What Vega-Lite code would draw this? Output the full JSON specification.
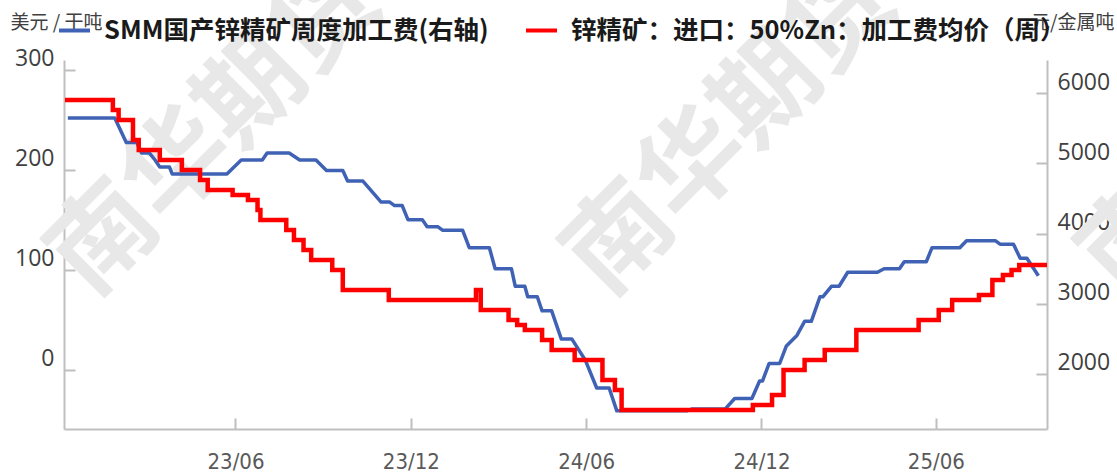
{
  "$schema": "https://vega.github.io/schema/vega-lite/v6.json",
  "width": 983,
  "height": 369,
  "autosize": {"type": "none"},
  "padding": {"left": 64, "top": 60, "right": 70, "bottom": 44},
  "background": "white",
  "config": {
    "view": {"stroke": null},
    "axis": {
      "grid": false,
      "zindex": 1,
      "domainColor": "#BFBFBF",
      "domainWidth": 2,
      "tickColor": "#BFBFBF",
      "tickWidth": 2,
      "tickSize": -11,
      "labelFont": "Open Sans",
      "labelColor": "#404040",
      "labelFontSize": 23
    }
  },
  "datasets": {
    "smm": [
      {"date": "2022-12-08", "value": 5650},
      {"date": "2023-01-26", "value": 5650},
      {"date": "2023-02-07", "value": 5300},
      {"date": "2023-02-18", "value": 5300},
      {"date": "2023-02-23", "value": 5150},
      {"date": "2023-03-03", "value": 5150},
      {"date": "2023-03-09", "value": 5050},
      {"date": "2023-03-14", "value": 4950},
      {"date": "2023-03-24", "value": 4950},
      {"date": "2023-03-27", "value": 4850},
      {"date": "2023-05-23", "value": 4850},
      {"date": "2023-06-07", "value": 5050},
      {"date": "2023-06-29", "value": 5050},
      {"date": "2023-07-04", "value": 5150},
      {"date": "2023-07-27", "value": 5150},
      {"date": "2023-08-07", "value": 5050},
      {"date": "2023-08-24", "value": 5050},
      {"date": "2023-09-04", "value": 4900},
      {"date": "2023-09-21", "value": 4900},
      {"date": "2023-09-26", "value": 4750},
      {"date": "2023-10-12", "value": 4750},
      {"date": "2023-10-31", "value": 4450},
      {"date": "2023-11-09", "value": 4450},
      {"date": "2023-11-14", "value": 4400},
      {"date": "2023-11-22", "value": 4400},
      {"date": "2023-11-28", "value": 4200},
      {"date": "2023-12-13", "value": 4200},
      {"date": "2023-12-18", "value": 4100},
      {"date": "2023-12-29", "value": 4100},
      {"date": "2024-01-03", "value": 4050},
      {"date": "2024-01-24", "value": 4050},
      {"date": "2024-01-31", "value": 3800},
      {"date": "2024-02-21", "value": 3800},
      {"date": "2024-02-27", "value": 3500},
      {"date": "2024-03-15", "value": 3500},
      {"date": "2024-03-19", "value": 3250},
      {"date": "2024-03-29", "value": 3250},
      {"date": "2024-04-01", "value": 3100},
      {"date": "2024-04-11", "value": 3100},
      {"date": "2024-04-16", "value": 2900},
      {"date": "2024-04-26", "value": 2900},
      {"date": "2024-05-06", "value": 2500},
      {"date": "2024-05-17", "value": 2500},
      {"date": "2024-05-31", "value": 2200},
      {"date": "2024-06-12", "value": 1800},
      {"date": "2024-06-25", "value": 1800},
      {"date": "2024-07-03", "value": 1475},
      {"date": "2024-09-14", "value": 1475},
      {"date": "2024-09-19", "value": 1500},
      {"date": "2024-10-24", "value": 1500},
      {"date": "2024-11-03", "value": 1650},
      {"date": "2024-11-21", "value": 1650},
      {"date": "2024-11-29", "value": 1900},
      {"date": "2024-12-02", "value": 1900},
      {"date": "2024-12-09", "value": 2150},
      {"date": "2024-12-20", "value": 2150},
      {"date": "2024-12-27", "value": 2400},
      {"date": "2025-01-07", "value": 2550},
      {"date": "2025-01-15", "value": 2750},
      {"date": "2025-01-22", "value": 2750},
      {"date": "2025-01-31", "value": 3100},
      {"date": "2025-02-03", "value": 3100},
      {"date": "2025-02-12", "value": 3250},
      {"date": "2025-02-20", "value": 3250},
      {"date": "2025-03-01", "value": 3450},
      {"date": "2025-04-01", "value": 3450},
      {"date": "2025-04-08", "value": 3500},
      {"date": "2025-04-24", "value": 3500},
      {"date": "2025-04-29", "value": 3600},
      {"date": "2025-05-22", "value": 3600},
      {"date": "2025-05-28", "value": 3800},
      {"date": "2025-06-26", "value": 3800},
      {"date": "2025-07-03", "value": 3900},
      {"date": "2025-08-02", "value": 3900},
      {"date": "2025-08-07", "value": 3850},
      {"date": "2025-08-21", "value": 3850},
      {"date": "2025-08-28", "value": 3650},
      {"date": "2025-09-04", "value": 3650},
      {"date": "2025-09-16", "value": 3400}
    ],
    "imp": [
      {"date": "2022-12-05", "value": 270},
      {"date": "2023-01-24", "value": 260},
      {"date": "2023-01-30", "value": 250},
      {"date": "2023-02-14", "value": 230},
      {"date": "2023-02-20", "value": 220},
      {"date": "2023-03-14", "value": 210},
      {"date": "2023-04-06", "value": 200},
      {"date": "2023-04-25", "value": 190},
      {"date": "2023-05-03", "value": 180},
      {"date": "2023-05-29", "value": 175},
      {"date": "2023-06-14", "value": 170},
      {"date": "2023-06-24", "value": 160},
      {"date": "2023-06-27", "value": 150},
      {"date": "2023-07-24", "value": 140},
      {"date": "2023-08-01", "value": 130},
      {"date": "2023-08-11", "value": 120},
      {"date": "2023-08-19", "value": 110},
      {"date": "2023-09-10", "value": 100},
      {"date": "2023-09-21", "value": 80},
      {"date": "2023-11-08", "value": 70},
      {"date": "2024-02-07", "value": 80},
      {"date": "2024-02-12", "value": 60},
      {"date": "2024-03-12", "value": 50},
      {"date": "2024-03-21", "value": 45},
      {"date": "2024-03-29", "value": 40},
      {"date": "2024-04-16", "value": 30},
      {"date": "2024-04-26", "value": 20},
      {"date": "2024-05-20", "value": 10},
      {"date": "2024-06-18", "value": -10},
      {"date": "2024-07-01", "value": -20},
      {"date": "2024-07-08", "value": -40},
      {"date": "2024-11-22", "value": -35},
      {"date": "2024-12-12", "value": -25},
      {"date": "2024-12-24", "value": 0},
      {"date": "2025-01-15", "value": 10},
      {"date": "2025-02-05", "value": 20},
      {"date": "2025-03-10", "value": 40},
      {"date": "2025-05-14", "value": 50},
      {"date": "2025-06-04", "value": 60},
      {"date": "2025-06-18", "value": 70},
      {"date": "2025-07-16", "value": 75},
      {"date": "2025-07-30", "value": 90},
      {"date": "2025-08-10", "value": 95},
      {"date": "2025-08-19", "value": 100},
      {"date": "2025-08-27", "value": 105},
      {"date": "2025-09-25", "value": 105}
    ]
  },
  "layer": [
    {
      "layer": [
        {
          "data": {"values": [{}]},
          "mark": {"type": "text", "text": "南华期货", "font": "Noto Sans CJK SC", "fontWeight": "bold", "fontSize": 104, "angle": -45, "align": "center", "baseline": "middle", "color": "#E8E8E8"},
          "encoding": {
            "x": {"datum": {"year": 2023, "month": 5, "date": 12, "utc": true}, "type": "temporal"},
            "y": {"datum": 5477, "type": "quantitative"}
          }
        },
        {
          "data": {"values": [{}]},
          "mark": {"type": "text", "text": "南华期货", "font": "Noto Sans CJK SC", "fontWeight": "bold", "fontSize": 104, "angle": -45, "align": "center", "baseline": "middle", "color": "#E8E8E8"},
          "encoding": {
            "x": {"datum": {"year": 2024, "month": 10, "date": 31, "utc": true}, "type": "temporal"},
            "y": {"datum": 5477, "type": "quantitative"}
          }
        },
        {
          "data": {"values": [{}]},
          "mark": {"type": "text", "text": "南华期货", "font": "Noto Sans CJK SC", "fontWeight": "bold", "fontSize": 104, "angle": -45, "align": "center", "baseline": "middle", "color": "#E8E8E8"},
          "encoding": {
            "x": {"datum": {"year": 2026, "month": 4, "date": 22, "utc": true}, "type": "temporal"},
            "y": {"datum": 5477, "type": "quantitative"}
          }
        },
        {
          "data": {"name": "smm"},
          "mark": {"type": "line", "strokeWidth": 3.5, "strokeJoin": "round"},
          "encoding": {
            "x": {
              "field": "date",
              "type": "temporal",
              "scale": {"type": "utc", "domain": [{"year": 2022, "month": 12, "date": 4, "utc": true}, {"year": 2025, "month": 9, "date": 25, "utc": true}]},
              "axis": {
                "title": null,
                "values": [
                  {"year": 2023, "month": 6, "date": 1, "utc": true},
                  {"year": 2023, "month": 12, "date": 1, "utc": true},
                  {"year": 2024, "month": 6, "date": 1, "utc": true},
                  {"year": 2024, "month": 12, "date": 1, "utc": true},
                  {"year": 2025, "month": 6, "date": 1, "utc": true}
                ],
                "format": "%y/%m",
                "labelFont": "Liberation Sans Narrow, DejaVu Sans Condensed, Roboto",
                "labelFontSize": 22,
                "labelColor": "#595959",
                "labelPadding": 33
              }
            },
            "y": {
              "field": "value",
              "type": "quantitative",
              "scale": {"domain": [1216, 6475], "nice": false, "zero": false},
              "axis": {
                "orient": "right",
                "values": [2000, 3000, 4000, 5000, 6000],
                "format": "d",
                "labelOffset": -11,
                "labelPadding": 21,
                "title": "元/金属吨",
                "titleAngle": 0,
                "titleAlign": "right",
                "titleBaseline": "middle",
                "titleX": 67,
                "titleY": -38,
                "titleFont": "Noto Sans CJK SC",
                "titleFontSize": 19,
                "titleFontWeight": "normal",
                "titleColor": "#404040"
              }
            },
            "color": {
              "datum": "SMM国产锌精矿周度加工费(右轴)",
              "scale": {
                "domain": ["SMM国产锌精矿周度加工费(右轴)", "锌精矿：进口：50%Zn：加工费均价（周）"],
                "range": ["#4062B4", "#FF0000"]
              },
              "legend": {
                "orient": "none",
                "legendX": -7,
                "legendY": -47,
                "direction": "horizontal",
                "title": null,
                "symbolType": "stroke",
                "symbolStrokeWidth": 4,
                "symbolSize": 961,
                "labelFont": "Noto Sans CJK SC",
                "labelFontSize": 25.5,
                "labelFontWeight": "bold",
                "labelColor": "#1A1A1A",
                "labelLimit": 1000,
                "labelOffset": 12,
                "columnPadding": 29,
                "padding": 0
              }
            }
          }
        }
      ]
    },
    {
      "data": {"name": "imp"},
      "mark": {"type": "line", "strokeWidth": 4.5, "interpolate": "step-after"},
      "encoding": {
        "x": {"field": "date", "type": "temporal"},
        "y": {
          "field": "value",
          "type": "quantitative",
          "scale": {"domain": [-59, 310], "nice": false, "zero": false},
          "axis": {
            "orient": "left",
            "values": [0, 100, 200, 300],
            "labelOffset": -12,
            "labelPadding": 21,
            "title": "美元 / 干吨",
            "titleAngle": 0,
            "titleAlign": "left",
            "titleBaseline": "middle",
            "titleX": -54,
            "titleY": -38,
            "titleFont": "Noto Sans CJK SC",
            "titleFontSize": 19,
            "titleFontWeight": "normal",
            "titleColor": "#404040"
          }
        },
        "color": {"datum": "锌精矿：进口：50%Zn：加工费均价（周）"}
      }
    }
  ],
  "resolve": {"scale": {"y": "independent"}}
}
